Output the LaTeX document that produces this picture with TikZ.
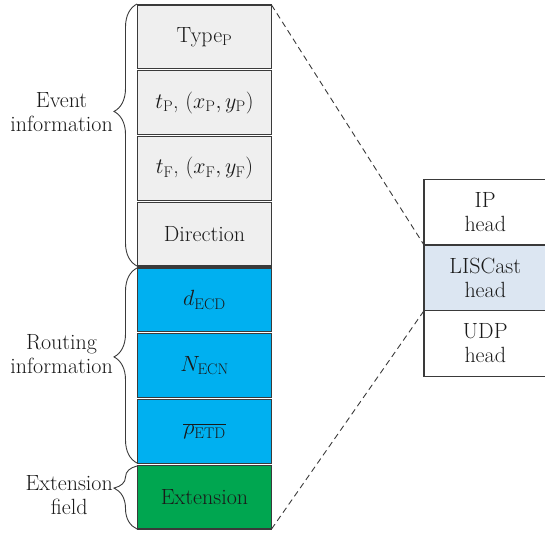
\documentclass[tikz,border=0pt]{standalone}
\usepackage{fix-cm}
\usepackage{fontspec}
\usetikzlibrary{decorations.pathreplacing}
\definecolor{boxgray}{HTML}{EFEFEF}
\definecolor{boxblue}{HTML}{00B0F0}
\definecolor{boxgreen}{HTML}{00A650}
\definecolor{boxlis}{HTML}{DCE6F2}
\definecolor{edgecol}{HTML}{3A3A3A}
\definecolor{txtcol}{HTML}{1A1A1A}
\tikzset{
  field/.style={draw=edgecol, line width=1.3pt, minimum width=134pt, minimum height=63.9pt,
    inner sep=0pt, outer sep=0pt, text=txtcol, font=\fontsize{22}{24}\selectfont},
  hdr/.style={draw=edgecol, line width=1.2pt, minimum width=122.5pt, minimum height=65.7pt,
    inner sep=0pt, outer sep=0pt, text=txtcol, align=center, font=\fontsize{22}{24}\selectfont},
  lbl/.style={anchor=east, align=center, text=txtcol, inner sep=0pt, font=\fontsize{22}{24}\selectfont},
  bracestyle/.style={draw=edgecol, line width=0.9pt, decorate,
    decoration={brace, mirror, amplitude=23pt}},
  dashline/.style={draw=edgecol, line width=0.9pt, dash pattern=on 6pt off 4pt},
}
\begin{document}
\begin{tikzpicture}[x=1pt,y=-1pt]
\clip (0,0) rectangle (545,535);
% left column
\node[field, fill=boxgray] (type) at (204.5,36.875) {Type$_{\mathrm{P}}$};
\node[field, fill=boxgray] (tp) at (204.5,102.625) {$t_{\mathrm{P}}$, $(x_{\mathrm{P}}, y_{\mathrm{P}})$};
\node[field, fill=boxgray] (tf) at (204.5,168.375) {$t_{\mathrm{F}}$, $(x_{\mathrm{F}}, y_{\mathrm{F}})$};
\node[field, fill=boxgray] (dir) at (204.5,234.125) {Direction};
\node[field, fill=boxblue] (d) at (204.5,299.875) {$d_{\mathrm{ECD}}$};
\node[field, fill=boxblue] (n) at (204.5,365.625) {$N_{\mathrm{ECN}}$};
\node[field, fill=boxblue] (rho) at (204.5,431.375) {$\overline{\rho_{\mathrm{ETD}}}$};
\node[field, fill=boxgreen] (ext) at (204.5,497.125) {Extension};
% right column
\node[hdr, fill=white] (ip) at (485.25,212.15) {IP\\head};
\node[hdr, fill=boxlis] (lis) at (485.25,277.85) {LISCast\\head};
\node[hdr, fill=white] (udp) at (485.25,343.55) {UDP\\head};
% dashed connectors
\draw[dashline] (type.north east) -- (lis.north west);
\draw[dashline] (ext.south east) -- (lis.south west);
% braces
\coordinate (b1s) at (137,4);
\coordinate (b1e) at (137,266);
\coordinate (b2s) at (137,268);
\coordinate (b2e) at (137,463);
\coordinate (b3s) at (137,466);
\coordinate (b3e) at (137,529);
\draw[bracestyle, decoration={aspect=0.41}] (b1s) -- (b1e);
\draw[bracestyle, decoration={aspect=0.456}] (b2s) -- (b2e);
\draw[bracestyle, decoration={aspect=0.35}] (b3s) -- (b3e);
% labels
\node[lbl] (lev) at (113,112) {Event\\information};
\node[lbl] (lrt) at (113,354) {Routing\\information};
\node[lbl] (lex) at (113,495) {Extension\\field};
\end{tikzpicture}
\end{document}
